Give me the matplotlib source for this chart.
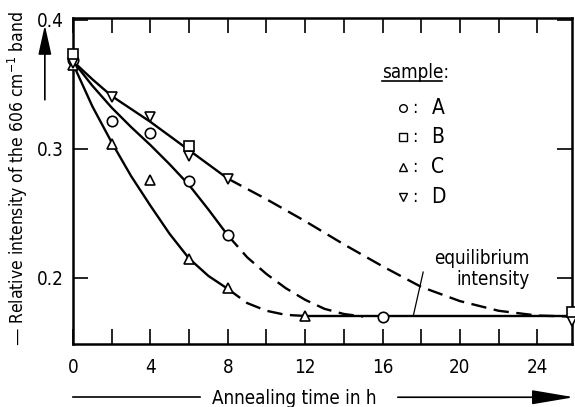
import numpy as np
import matplotlib
matplotlib.use("Agg")
import matplotlib.pyplot as plt

plt.rcParams['font.family'] = 'DejaVu Sans'
plt.rcParams['font.stretch'] = 'condensed'
plt.rcParams['font.size'] = 13

# measured points (annealing time in h, relative intensity)
t_A = [0, 2, 4, 6, 8, 16]
y_A = [0.369, 0.322, 0.312, 0.275, 0.233, 0.1695]
t_B = [0, 6, 25.8]
y_B = [0.3735, 0.3025, 0.1735]
t_C = [0, 2, 4, 6, 8, 12]
y_C = [0.365, 0.304, 0.276, 0.2145, 0.192, 0.1705]
t_D = [0, 2, 4, 6, 8, 25.8]
y_D = [0.367, 0.3405, 0.3245, 0.2945, 0.2765, 0.1665]

# drawn curves
fit_t_solid = [0, 1, 2, 3, 4, 5, 6, 7, 8]
fit_A_solid = [0.368, 0.349, 0.332, 0.317, 0.303, 0.288, 0.272, 0.253, 0.233]
fit_C_solid = [0.366, 0.333, 0.305, 0.279, 0.256, 0.234, 0.215, 0.2015, 0.1915]
fit_D_solid = [0.368, 0.354, 0.341, 0.331, 0.321, 0.310, 0.299, 0.288, 0.277]

fit_t_A_dash = [8, 9, 10, 11, 12, 13, 14, 15]
fit_A_dash = [0.233, 0.216, 0.203, 0.192, 0.183, 0.176, 0.172, 0.170]
fit_t_C_dash = [8, 9, 10, 11, 12]
fit_C_dash = [0.1915, 0.1805, 0.1745, 0.1713, 0.1705]
fit_t_D_dash = [8, 10, 12, 14, 16, 18, 20, 22, 24, 25.8]
fit_D_dash = [0.277, 0.261, 0.244, 0.226, 0.209, 0.193, 0.182, 0.1745, 0.1708, 0.170]

eq_t = [12, 25.8]
eq_y = [0.1705, 0.1705]

fig = plt.figure(figsize=(5.75, 4.07), dpi=100)
ax = fig.add_axes([0.127, 0.155, 0.868, 0.801])

lw = 1.7
dash = (6.5, 3.2)
for fy in (fit_A_solid, fit_C_solid, fit_D_solid):
    ax.plot(fit_t_solid, fy, color='black', lw=lw)
ax.plot(fit_t_A_dash, fit_A_dash, color='black', lw=lw, dashes=dash)
ax.plot(fit_t_C_dash, fit_C_dash, color='black', lw=lw, dashes=dash)
ax.plot(fit_t_D_dash, fit_D_dash, color='black', lw=lw, dashes=dash)
ax.plot(eq_t, eq_y, color='black', lw=lw)

mk = dict(linestyle='none', mfc='white', mec='black', mew=1.2, ms=7.5, clip_on=False, zorder=5)
ax.plot(t_A, y_A, marker='o', **mk)
ax.plot(t_C, y_C, marker='^', **mk)
ax.plot(t_D, y_D, marker='v', **mk)
ax.plot(t_B, y_B, marker='s', **dict(mk, ms=6.5))

ax.set_xlim(0, 25.8)
ax.set_ylim(0.1488, 0.4016)
ax.set_xticks([0, 4, 8, 12, 16, 20, 24])
ax.set_xticks(np.arange(2, 26, 4), minor=True)
ax.set_yticks([0.2, 0.3, 0.4])
ax.set_yticklabels(['0.2', '0.3', '0.4'])
ax.tick_params(axis='both', which='both', direction='in', top=True, right=True,
               length=11, width=1.2, labelsize=13.5)
ax.tick_params(axis='x', which='both', pad=10)
ax.tick_params(axis='y', which='both', pad=7)
for s in ax.spines.values():
    s.set_linewidth(1.8)

# sample legend
tr = ax.transAxes
ax.text(0.619, 0.834, 'sample:', transform=tr, fontsize=13.5, va='center', ha='left')
ax.plot([0.619, 0.74], [0.808, 0.808], transform=tr, color='black', lw=1.2)
leg = [('o', 'A'), ('s', 'B'), ('^', 'C'), ('v', 'D')]
leg_y = [0.724, 0.635, 0.543, 0.451]
for (m, name), yy in zip(leg, leg_y):
    ax.plot([0.661], [yy], transform=tr, marker=m, linestyle='none', mfc='white',
            mec='black', mew=1.0, ms=5.5)
    ax.text(0.679, yy, ':', transform=tr, fontsize=13, va='center', ha='left')
    ax.text(0.718, yy, name, transform=tr, fontsize=15, va='center', ha='left')

# equilibrium annotation
ax.text(23.6, 0.207, 'equilibrium\nintensity', ha='right', va='center',
        multialignment='right', fontsize=13.5, linespacing=1.1)
ax.plot([18.1, 17.6], [0.2045, 0.1713], color='black', lw=0.9)

# axis labels with arrows
fig.text(0.031, 0.562, '\u2014 Relative intensity of the 606 cm$^{-1}$ band',
         rotation=90, ha='center', va='center', fontsize=12.5)
fig.patches.append(matplotlib.patches.FancyArrowPatch(
    (0.078, 0.748), (0.078, 0.945), transform=fig.transFigure,
    arrowstyle='-|>,head_length=0.9,head_width=0.2', mutation_scale=20,
    color='black', lw=1.2))

fig.text(0.511, 0.022, 'Annealing time in h', ha='center', va='center', fontsize=13.5)
fig.add_artist(matplotlib.lines.Line2D([0.127, 0.348], [0.024, 0.024],
                                       transform=fig.transFigure, color='black', lw=1.2))
fig.patches.append(matplotlib.patches.FancyArrowPatch(
    (0.687, 0.024), (1.003, 0.024), transform=fig.transFigure,
    arrowstyle='-|>,head_length=1.3,head_width=0.22', mutation_scale=20,
    color='black', lw=1.2))

fig.savefig('out.png', dpi=100)
